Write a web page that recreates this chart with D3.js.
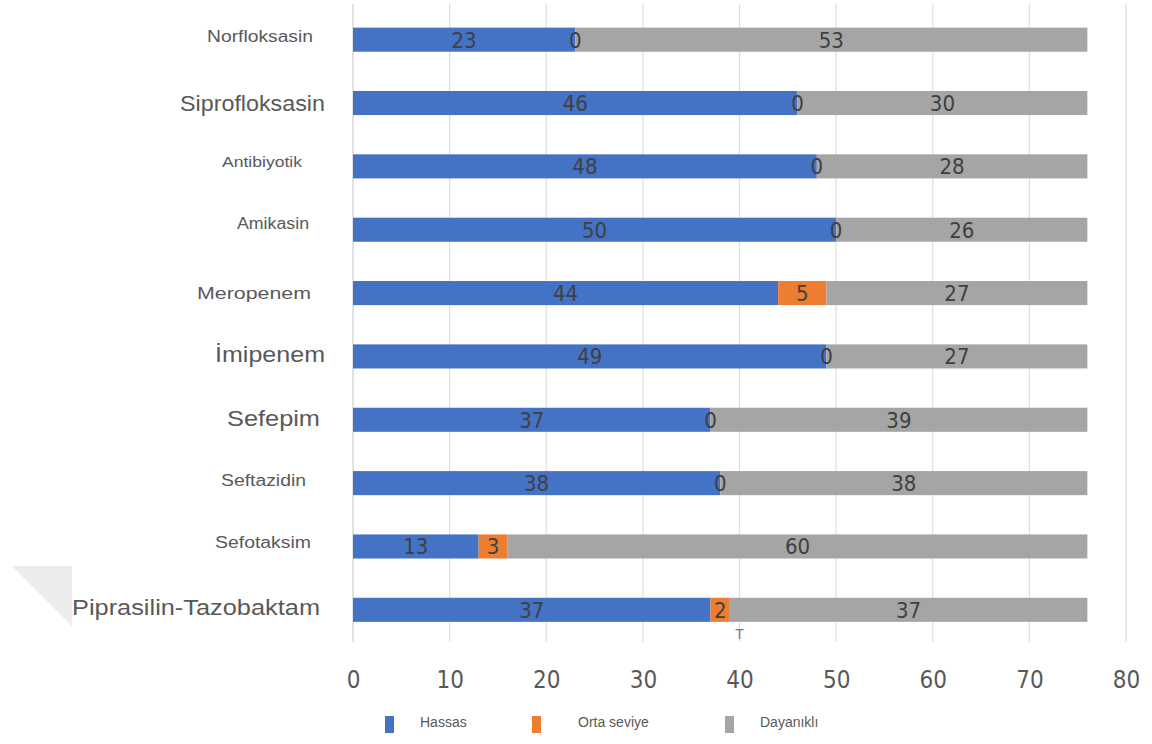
<!DOCTYPE html>
<html><head><meta charset="utf-8">
<script src="https://cdn.jsdelivr.net/npm/d3@7"></script>
<style>
body{margin:0;background:#fff;}
svg{display:block;}
.num{font-family:"Liberation Sans Narrow","DejaVu Sans Condensed",sans-serif;}
.lab{font-family:"Liberation Sans",Arial,sans-serif;}
</style></head>
<body><svg id="c" width="1152" height="744"></svg>
<script>
const categories = ["Norfloksasin","Siprofloksasin","Antibiyotik","Amikasin","Meropenem","İmipenem","Sefepim","Seftazidin","Sefotaksim","Piprasilin-Tazobaktam"];
const hassas = [23,46,48,50,44,49,37,38,13,37];
const ortaSeviye = [0,0,0,0,5,0,0,0,3,2];
const dayanikli = [53,30,28,26,27,27,39,38,60,37];
const seriesNames = ["Hassas","Orta seviye","Dayanıklı"];
const xTicks = [0,10,20,30,40,50,60,70,80];

// styling (label font sizes, widths and right-edge offsets, as they appear in the picture)
const labelSize = [16,22,15,16,17,22,22,16,16,22];
const labelWidth = [106,145,80,72,114,110,93,85,96,248];
const labelRight = [313,325,302,309,311,325,320,306,311,320];
const labelDy = [-3,0,-5,-6,0,-2,-1,-3,-4,-3];
const colors = ["#4472C4","#ED7D31","#A5A5A5"];

const svg = d3.select("#c");
const x = d3.scaleLinear().domain([0,80]).range([353,1126]);
const y = d3.scaleBand().domain(categories).range([8,641.5]).paddingInner(0.62).paddingOuter(0.31);

// faint decorative shape at left
svg.append("path").attr("d","M12,566 L72,566 L72,626 Z").attr("fill","#ececec");

// gridlines
svg.append("g").selectAll("line").data(xTicks).join("line")
  .attr("x1",d=>x(d)).attr("x2",d=>x(d)).attr("y1",4).attr("y2",642)
  .attr("stroke",d=>d===0?"#cfcfcf":"#dedede").attr("stroke-width",1.2);

const stackData = categories.map((c,i)=>({c, Hassas:hassas[i], "Orta seviye":ortaSeviye[i], "Dayanıklı":dayanikli[i]}));
const stacked = d3.stack().keys(seriesNames)(stackData);

const g = svg.append("g");
stacked.forEach((s,si)=>{
  g.append("g").selectAll("rect").data(s).join("rect")
    .attr("x",d=>x(d[0])).attr("width",d=>x(d[1])-x(d[0]))
    .attr("y",d=>y(d.data.c)).attr("height",y.bandwidth())
    .attr("fill",colors[si]);
});
stacked.forEach((s,si)=>{
  g.append("g").selectAll("text").data(s).join("text")
    .attr("class","num")
    .attr("x",d=>x((d[0]+d[1])/2)).attr("y",d=>y(d.data.c)+y.bandwidth()/2)
    .attr("dy","0.36em").attr("text-anchor","middle")
    .attr("font-size",22).attr("fill","#404040")
    .text(d=>d[1]-d[0]);
});

// category labels
svg.append("g").selectAll("text").data(categories).join("text")
  .attr("class","lab")
  .attr("x",(d,i)=>labelRight[i]).attr("y",(d,i)=>y(d)+y.bandwidth()/2+labelDy[i])
  .attr("dy","0.35em").attr("text-anchor","end")
  .attr("font-size",(d,i)=>labelSize[i]).attr("fill","#595959")
  .attr("textLength",(d,i)=>labelWidth[i]).attr("lengthAdjust","spacingAndGlyphs")
  .text(d=>d);

// small stray "T" below last bar
svg.append("text").attr("class","lab").attr("x",x(40)).attr("y",y(categories[9])+y.bandwidth()+17)
  .attr("text-anchor","middle").attr("font-size",14).attr("fill","#777").text("T");

// x axis tick labels
const ax = d3.axisBottom(x).tickValues(xTicks).tickSize(0).tickPadding(0);
const axg = svg.append("g").attr("transform","translate(0,671)").call(ax);
axg.select(".domain").remove();
axg.selectAll("text").attr("class","num").attr("font-size",24).attr("fill","#595959").attr("dy","0.71em");

// legend
const legX = [385,532,725];
const legTextX = [420,578,760];
const lg = svg.append("g");
seriesNames.forEach((n,i)=>{
  lg.append("rect").attr("x",legX[i]).attr("y",716).attr("width",9).attr("height",17).attr("fill",colors[i]);
  lg.append("text").attr("class","lab").attr("x",legTextX[i]).attr("y",722).attr("dy","0.35em")
    .attr("font-size",14).attr("fill","#595959").text(n);
});
</script></body></html>
